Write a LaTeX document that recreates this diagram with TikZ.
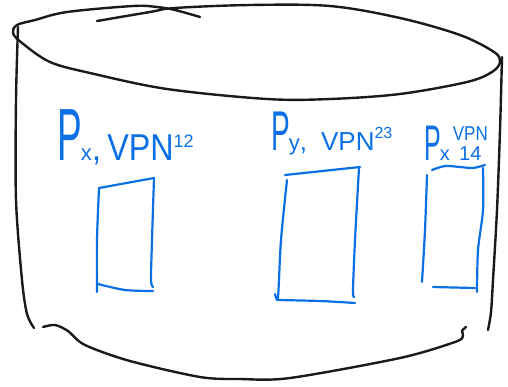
\documentclass[tikz,border=0pt]{standalone}
\usepackage{fontspec}
\setmainfont{Liberation Sans}
\usepackage{graphicx}
\usetikzlibrary{positioning}
\definecolor{tinta}{HTML}{1A1A1A}
\definecolor{azul}{HTML}{0B6FE6}
% narrow hand-drawn P
\newcommand{\letraP}[1]{\scalebox{0.5}[1]{\fontsize{#1}{#1}\selectfont P}}
\newcommand{\tam}[1]{\fontsize{#1}{#1}\selectfont}

\begin{document}
\begin{tikzpicture}[
  x=1pt, y=-1pt,
  trazo/.style={draw=tinta, line width=2.4pt, line cap=round, line join=round},
  caja/.style={draw=azul, line width=2.2pt, line cap=round, line join=round},
  etq/.style={text=azul, inner sep=0pt, anchor=base west}
]
\useasboundingbox (0,0) rectangle (508,386);

% cilindro
\draw[trazo] plot[smooth, tension=0.55] coordinates {(97,21) (150,12) (175,8) (250,5) (330,6) (400,18) (460,35) (494,52) (500,62) (492,72) (467,82) (400,94) (330,99) (267,99) (167,89) (90,73) (50,62) (22,43) (13,33) (17,25) (35,20) (67,12) (133,6) (157,7) (175,10) (200,17)};
\draw[trazo] plot[smooth] coordinates {(18,27) (16,100) (16,200) (22,280) (27,314) (34,328)};
\draw[trazo] plot[smooth] coordinates {(502,57) (500,130) (497,210) (493,280) (491,312) (488,330)};
\draw[trazo] plot[smooth, tension=0.5] coordinates {(43,327) (55,325) (68,331) (85,345) (130,361) (200,377) (240,379) (290,378) (400,358) (455,342) (463,336) (462,331) (466,327)};

% cajas
\draw[caja] (99,188) -- (154,178);
\draw[caja] plot[smooth] coordinates {(99,188) (97,240) (97,292)};
\draw[caja] plot[smooth] coordinates {(154,178) (152,240) (151,280) (153,287)};
\draw[caja] plot[smooth] coordinates {(98,284) (125,290) (153,291)};

\draw[caja] (285,175) -- (360,167);
\draw[caja] plot[smooth] coordinates {(287,180) (281,240) (278,297) (275,294)};
\draw[caja] plot[smooth] coordinates {(359,168) (355,240) (353,290) (354,297)};
\draw[caja] plot[smooth] coordinates {(277,300) (320,301) (355,303)};

\draw[caja] plot[smooth] coordinates {(432,170) (445,166) (460,167) (473,168) (485,165)};
\draw[caja] plot[smooth] coordinates {(427,175) (425,230) (422,282)};
\draw[caja] plot[smooth] coordinates {(483,168) (483,210) (478,250) (477,292)};
\draw[caja] (433,287) -- (475,288);

% rótulos
\node[etq] (rot1) at (57,160) {\letraP{74}\kern-1pt\tam{22}x\tam{34},\hspace{6pt}\scalebox{0.95}[1.1]{VPN}\raisebox{13pt}{\tam{18}12}};
\node[etq] (rot2) at (271,150) {\letraP{56}\kern-1pt\tam{22}y\tam{26},\hspace{14pt}VPN\raisebox{12pt}{\tam{16}23}};
\node[etq] (rot3) at (424,160) {\letraP{50}\kern-1pt\tam{20}x\hspace{3pt}{\renewcommand{\arraystretch}{1}\fontsize{20}{20}\selectfont\begin{tabular}[b]{@{}c@{}}\scalebox{0.85}[1]{VPN}\\\tam{20}14\end{tabular}}};
\end{tikzpicture}
\end{document}
